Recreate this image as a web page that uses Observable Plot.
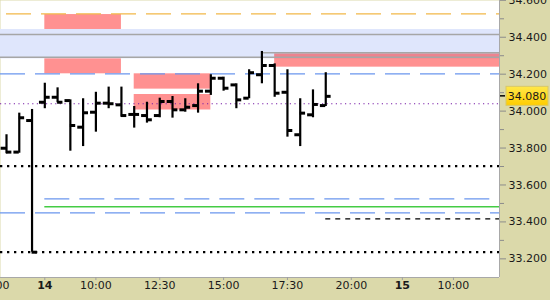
<!DOCTYPE html>
<html><head><meta charset="utf-8">
<script src="https://cdn.jsdelivr.net/npm/d3@7"></script>
<script src="https://cdn.jsdelivr.net/npm/@observablehq/plot@0.6"></script>
<style>
html,body{margin:0;padding:0;background:#fff;}
#chart{width:550px;height:300px;overflow:hidden;}
</style></head><body><div id="chart"></div>
<script>
// ---- 30-minute OHLC bars (day, time) ----
const barTimes = ["13 20:30","13 21:00","13 21:30","14 08:00","14 08:30","14 09:00","14 09:30","14 10:00","14 10:30","14 11:00","14 11:30","14 12:00","14 12:30","14 13:00","14 13:30","14 14:00","14 14:30","14 15:00","14 15:30","14 16:00","14 16:30","14 17:00","14 17:30","14 18:00","14 18:30","14 19:00"];
const open  = [33.799,33.778,33.949,34.048,34.075,34.057,33.913,33.994,34.043,34.034,33.982,33.976,33.976,34.052,34.007,34.030,34.108,34.178,34.142,34.070,34.197,34.247,34.102,33.872,33.980,34.030];
const high  = [33.872,33.989,34.009,34.151,34.126,34.061,34.067,34.102,34.130,34.130,34.025,34.048,34.070,34.079,34.067,34.148,34.197,34.184,34.148,34.224,34.323,34.256,34.224,34.067,34.115,34.208];
const low   = [33.769,33.772,33.236,34.013,34.045,33.783,33.808,33.886,34.013,33.967,33.908,33.935,33.964,33.962,33.994,33.989,34.085,34.108,34.013,34.067,34.148,34.075,33.859,33.808,33.964,34.025];
const close = [33.778,33.964,33.236,34.075,34.048,33.922,33.991,34.043,34.040,33.976,33.982,33.953,34.052,34.007,34.021,34.108,34.178,34.124,34.061,34.208,34.247,34.097,33.895,33.989,34.036,34.080];

// ---- x tick labels ----
const tickTimes  = ["13 20:00","14 08:00","14 10:00","14 12:30","14 15:00","14 17:30","14 20:00","15 08:00","15 10:00"];
const tickLabels = ["20:00","14","10:00","12:30","15:00","17:30","20:00","15","10:00"];
const tickBold   = [false,true,false,false,false,false,false,true,false];

// ---- y ticks ----
const yMajor = [33.2,33.4,33.6,33.8,34.0,34.2,34.4,34.6];
const yMinor = [33.3,33.5,33.7,33.9,34.1,34.3,34.5];

// ---- zones ----
const bandLow = 34.283, bandHigh = 34.442;
const zoneLow   = [34.442,34.202,34.119,34.006,34.238];
const zoneHigh  = [34.523,34.283,34.202,34.090,34.310];
const zoneStart = ["14 08:00","14 08:00","14 11:30","14 11:30","14 17:00"];
const zoneEnd   = ["14 11:00","14 11:00","14 14:30","14 14:30",null];

// ---- horizontal levels ----
const levelPrice = [34.527,34.415,34.292,34.316,34.202,34.040,33.702,33.525,33.482,33.449,33.417,33.236];
const levelStart = [null,null,null,"14 16:30",null,null,null,"14 08:00","14 08:00",null,"14 19:00",null];
const levelStyle = ["orange","grey","grey","grey","blue","purple","dots","blue","green","blue","dash","dots"];

const styles = {
  orange: {stroke:"#f2b848", strokeWidth:1.2, strokeDasharray:"25,10", strokeDashoffset:29},
  grey:   {stroke:"#a6a6a6", strokeWidth:1.4},
  blue:   {stroke:"#6b96ee", strokeWidth:1.3, strokeDasharray:"25,10"},
  purple: {stroke:"#7a1fa8", strokeWidth:1.2, strokeDasharray:"1.2,3.4"},
  dots:   {stroke:"#000", strokeWidth:2.3, strokeDasharray:"2.3,4.7"},
  green:  {stroke:"#44cc44", strokeWidth:1.4},
  dash:   {stroke:"#000", strokeWidth:1.2, strokeDasharray:"5,5"}
};

function sessionHours(s){
  const [d, hm] = s.split(" ");
  const [h, m] = hm.split(":").map(Number);
  return (+d - 14) * 14 + h + m / 60 - 8;
}

const xMin = -1.735, xMax = 17.803;
const yMin = 33.099, yMax = 34.599;

const bars = barTimes.map((s, i) => ({t: sessionHours(s), open: open[i], high: high[i], low: low[i], close: close[i]}));
const ticks = tickTimes.map((s, i) => ({t: sessionHours(s), label: tickLabels[i], bold: tickBold[i]}));
const zones = zoneLow.map((lo, i) => ({lo, hi: zoneHigh[i], x1: sessionHours(zoneStart[i]), x2: zoneEnd[i] ? sessionHours(zoneEnd[i]) : xMax}));
const levels = levelPrice.map((p, i) => ({p, x1: levelStart[i] ? sessionHours(levelStart[i]) : xMin, style: levelStyle[i]}));
const tickHalf = 0.21;
const lastClose = close[close.length - 1];

const levelMarks = Object.keys(styles).map(k =>
  Plot.ruleY(levels.filter(d => d.style === k), {y: "p", x1: "x1", x2: xMax, ...styles[k]}));

const priceLabel = (index, scales, values, dims) => {
  const y = scales.y(lastClose);
  const xr = dims.width - dims.marginRight;
  const g = d3.create("svg:g");
  const grad = g.append("defs").append("linearGradient").attr("id","gold").attr("x1",0).attr("x2",0).attr("y1",0).attr("y2",1);
  grad.append("stop").attr("offset","0").attr("stop-color","#ffe84a");
  grad.append("stop").attr("offset","1").attr("stop-color","#ffcc00");
  g.append("line").attr("x1", xr + 1).attr("x2", xr + 6).attr("y1", y).attr("y2", y).attr("stroke","#000").attr("stroke-width",1.5);
  g.append("rect").attr("x", xr + 7).attr("y", y - 9.5).attr("width", 42).attr("height", 19)
    .attr("fill","url(#gold)").attr("stroke","#d8c868").attr("stroke-width",1);
  g.append("text").attr("x", xr + 28).attr("y", y).attr("dy","0.35em").attr("text-anchor","middle")
    .attr("font-family","DejaVu Sans").attr("font-size",11).attr("fill","#1a1a1a").text(d3.format(".3f")(lastClose));
  return g.node();
};

const chart = Plot.plot({
  width: 550, height: 300,
  marginTop: 0, marginLeft: 0, marginRight: 51, marginBottom: 23,
  style: {background: "#dbd9aa", fontFamily: "DejaVu Sans", fontSize: "11px", overflow: "hidden"},
  x: {type: "linear", domain: [xMin, xMax], axis: null},
  y: {domain: [yMin, yMax], axis: null},
  marks: [
    Plot.frame({fill: "white", stroke: null}),
    Plot.rect([{lo: bandLow, hi: bandHigh}], {x1: xMin, x2: xMax, y1: "lo", y2: "hi", fill: "#dfe6fc"}),
    Plot.rect(zones, {x1: "x1", x2: "x2", y1: "lo", y2: "hi", fill: "#ff0000", fillOpacity: 0.43}),
    ...levelMarks,
    Plot.ruleX(bars, {x: "t", y1: "low", y2: "high", stroke: "#000", strokeWidth: 2.2}),
    Plot.ruleY(bars, {y: "open", x1: d => d.t - tickHalf, x2: "t", stroke: "#000", strokeWidth: 3}),
    Plot.ruleY(bars, {y: "close", x1: "t", x2: d => d.t + tickHalf, stroke: "#000", strokeWidth: 3}),
    Plot.ruleX([xMax], {stroke: "#a8a8a8", strokeWidth: 1}),
    Plot.ruleY([yMin], {stroke: "#a8a8a8", strokeWidth: 1}),
    Plot.axisY(yMajor, {anchor: "right", tickSize: 6, tickPadding: 3, tickFormat: d3.format(".3f"), stroke: "#8c8c8c", fill: "#1a1a1a", fontSize: 11}),
    Plot.axisY(yMinor, {anchor: "right", tickSize: 4, tickFormat: () => "", stroke: "#8c8c8c"}),
    Plot.axisX(ticks.filter(d => d.t >= xMin && d.t <= xMax).map(d => d.t), {anchor: "bottom", tickSize: 3, tickFormat: () => "", stroke: "#a0a0a0"}),
    Plot.text(ticks.filter(d => !d.bold), {x: "t", text: "label", frameAnchor: "bottom", dy: 11.5, fill: "#1a1a1a", fontSize: 11}),
    Plot.text(ticks.filter(d => d.bold), {x: "t", text: "label", frameAnchor: "bottom", dy: 11.5, fill: "#1a1a1a", fontSize: 11, fontWeight: "bold"}),
    priceLabel
  ]
});
document.getElementById("chart").appendChild(chart);
</script></body></html>
